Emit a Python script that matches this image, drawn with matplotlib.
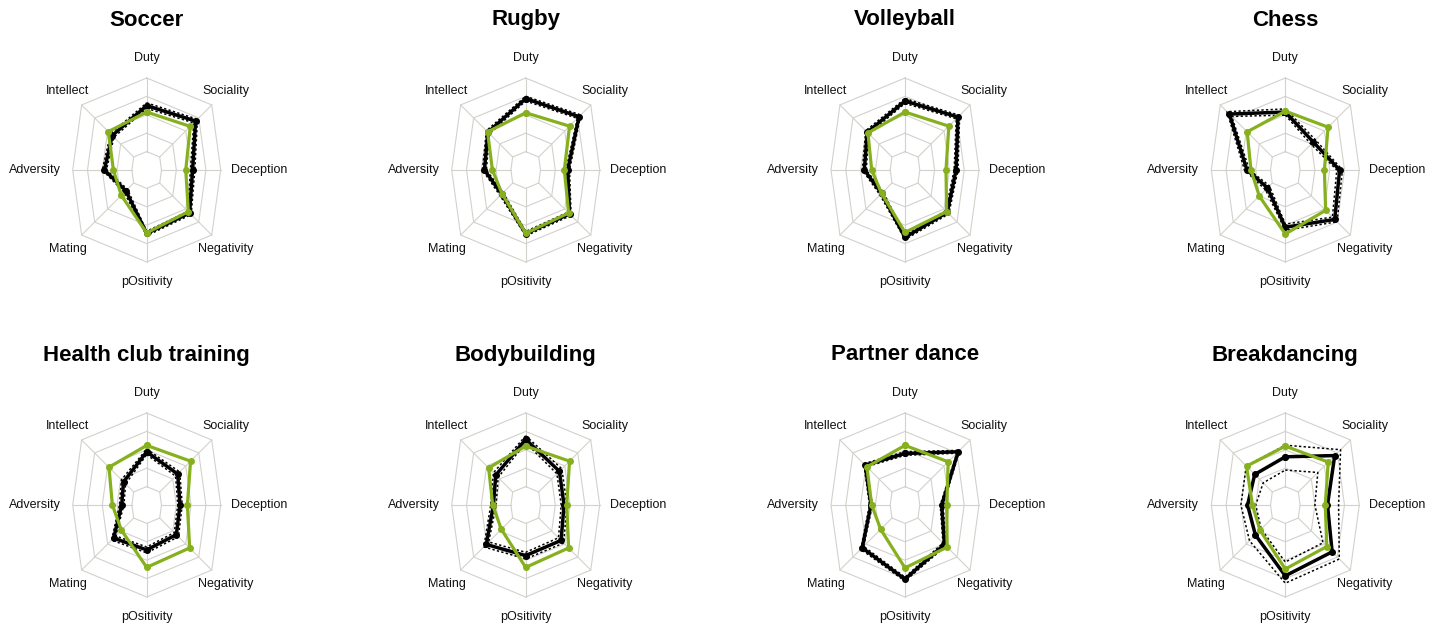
import matplotlib.pyplot as plt
import numpy as np

plt.rcParams['font.family'] = ['Liberation Sans', 'DejaVu Sans']

# axis labels, clockwise from the top
dims = ["Duty", "Sociality", "Deception", "Negativity",
        "pOsitivity", "Mating", "Adversity", "Intellect"]

sports = ["Soccer", "Rugby", "Volleyball", "Chess",
          "Health club training", "Bodybuilding", "Partner dance", "Breakdancing"]

# green series (values in ring units, outer ring = 5)
green = {
    "Soccer":               [3.15, 3.35, 2.64, 3.20, 3.42, 1.95, 2.25, 2.95],
    "Rugby":                [3.11, 3.37, 2.61, 3.30, 3.44, 1.82, 2.25, 2.93],
    "Volleyball":           [3.15, 3.37, 2.77, 3.20, 3.39, 1.80, 2.25, 2.85],
    "Chess":                [3.20, 3.29, 2.64, 3.10, 3.48, 2.00, 2.32, 2.93],
    "Health club training": [3.24, 3.37, 2.75, 3.30, 3.39, 1.94, 2.32, 2.90],
    "Bodybuilding":         [3.20, 3.37, 2.77, 3.30, 3.39, 1.87, 2.23, 2.85],
    "Partner dance":        [3.24, 3.32, 2.82, 3.24, 3.42, 1.87, 2.25, 2.93],
    "Breakdancing":         [3.20, 3.30, 2.70, 3.19, 3.48, 1.94, 2.22, 2.98],
}

# black series
black = {
    "Soccer":               [3.50, 3.76, 3.10, 3.30, 3.45, 1.60, 2.86, 2.65],
    "Rugby":                [3.88, 4.10, 2.84, 3.37, 3.46, 1.85, 2.79, 2.90],
    "Volleyball":           [3.75, 4.07, 3.45, 3.25, 3.66, 1.80, 2.75, 2.90],
    "Chess":                [3.15, 2.15, 3.67, 3.80, 3.11, 1.37, 2.59, 4.30],
    "Health club training": [2.89, 2.38, 2.25, 2.28, 2.44, 2.54, 1.69, 1.78],
    "Bodybuilding":         [3.57, 2.59, 2.59, 2.72, 2.75, 3.03, 2.18, 2.30],
    "Partner dance":        [2.80, 4.09, 2.48, 3.03, 4.03, 3.29, 2.30, 3.06],
    "Breakdancing":         [2.62, 3.80, 2.85, 3.60, 3.85, 2.30, 2.55, 2.35],
}

# dotted band around the black series
black_lo = {
    "Soccer":               [3.35, 3.62, 2.95, 3.18, 3.33, 1.48, 2.72, 2.52],
    "Rugby":                [3.75, 3.97, 2.72, 3.25, 3.34, 1.73, 2.66, 2.78],
    "Volleyball":           [3.62, 3.94, 3.32, 3.13, 3.54, 1.68, 2.62, 2.78],
    "Chess":                [2.98, 1.98, 3.48, 3.62, 2.94, 1.22, 2.42, 4.12],
    "Health club training": [2.74, 2.22, 2.10, 2.12, 2.28, 2.38, 1.54, 1.62],
    "Bodybuilding":         [3.38, 2.40, 2.40, 2.52, 2.57, 2.84, 2.00, 2.12],
    "Partner dance":        [2.70, 3.98, 2.38, 2.92, 3.92, 3.18, 2.20, 2.95],
    "Breakdancing":         [1.90, 2.50, 2.00, 2.90, 3.10, 1.85, 2.00, 1.70],
}
black_hi = {
    "Soccer":               [3.65, 3.90, 3.25, 3.42, 3.57, 1.72, 3.00, 2.78],
    "Rugby":                [4.01, 4.23, 2.96, 3.49, 3.58, 1.97, 2.92, 3.02],
    "Volleyball":           [3.88, 4.20, 3.58, 3.37, 3.78, 1.92, 2.88, 3.02],
    "Chess":                [3.32, 2.32, 3.86, 3.98, 3.28, 1.52, 2.76, 4.48],
    "Health club training": [3.04, 2.54, 2.40, 2.44, 2.60, 2.70, 1.84, 1.94],
    "Bodybuilding":         [3.76, 2.78, 2.78, 2.92, 2.93, 3.22, 2.36, 2.48],
    "Partner dance":        [2.90, 4.20, 2.58, 3.14, 4.14, 3.40, 2.40, 3.17],
    "Breakdancing":         [3.25, 4.25, 3.60, 4.15, 4.25, 2.75, 3.00, 3.00],
}

W, H = 1437, 626
col_x = [146.7, 525.7, 905.0, 1285.3]
row_y = [170.0, 505.0]
title_y = [20.0, 355.0]

GREEN = '#86b01e'
GRID = '#d3d1cb'

# pixel radius of the outer ring along each spoke
theta = np.arange(8) * np.pi / 4
R_pix = np.array([92, 92, 74, 92, 92, 92, 74, 92], dtype=float)
ux = np.sin(theta) * R_pix / 5.0
uy = np.cos(theta) * R_pix / 5.0


def to_xy(vals):
    v = np.asarray(vals, dtype=float)
    x = np.append(v * ux, v[0] * ux[0])
    y = np.append(v * uy, v[0] * uy[0])
    return x, y


fig = plt.figure(figsize=(W / 100, H / 100), dpi=100)

for i, sport in enumerate(sports):
    cx = col_x[i % 4]
    cy = row_y[i // 4]
    hw, hh = 160, 135
    ax = fig.add_axes([(cx - hw) / W, (H - cy - hh) / H, 2 * hw / W, 2 * hh / H])
    ax.set_xlim(-hw, hw)
    ax.set_ylim(-hh, hh)
    ax.axis('off')

    # octagonal grid
    for ring in range(1, 6):
        gx, gy = to_xy([ring] * 8)
        ax.plot(gx, gy, color=GRID, lw=0.8, zorder=1)
    for k in range(8):
        ax.plot([ux[k], 5 * ux[k]], [uy[k], 5 * uy[k]], color=GRID, lw=0.8, zorder=1)

    # labels
    for k, name in enumerate(dims):
        ax.text(112 * np.sin(theta[k]), 112 * np.cos(theta[k]), name,
                ha='center', va='center', fontsize=9, color='#111111')

    lx, ly = to_xy(black_lo[sport])
    ax.plot(lx, ly, color='black', lw=1.1, ls=(0, (1.5, 1.5)), zorder=2)
    hx, hy = to_xy(black_hi[sport])
    ax.plot(hx, hy, color='black', lw=1.1, ls=(0, (1.5, 1.5)), zorder=2)

    bx, by = to_xy(black[sport])
    ax.plot(bx, by, color='black', lw=2.5, marker='o', ms=4, zorder=3)

    gx, gy = to_xy(green[sport])
    ax.plot(gx, gy, color=GREEN, lw=2.3, marker='o', ms=4, zorder=4)

    fig.text(cx / W, 1 - title_y[i // 4] / H, sport, ha='center', va='center',
             fontsize=16, fontweight='bold')

fig.savefig('out.png', dpi=100)
